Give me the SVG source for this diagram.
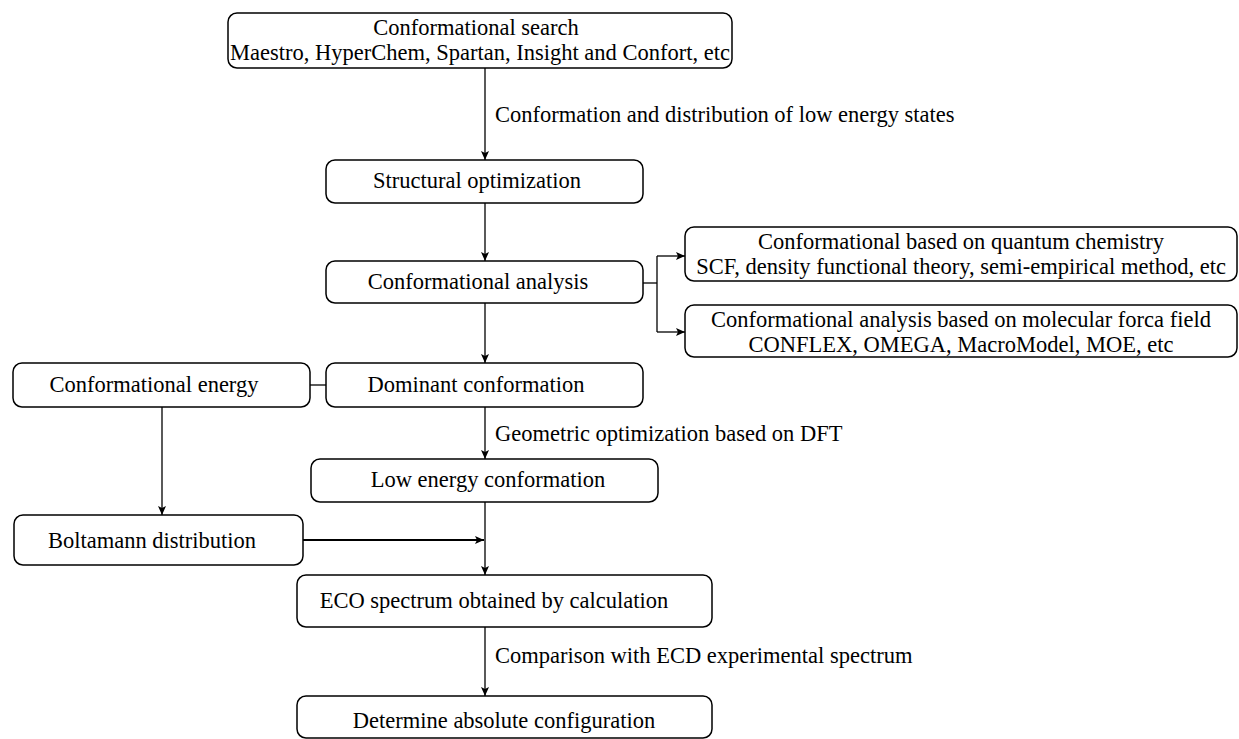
<svg xmlns="http://www.w3.org/2000/svg" width="1239" height="739" viewBox="0 0 1239 739">
<defs>
<marker id="ah" markerUnits="userSpaceOnUse" markerWidth="9" markerHeight="8" refX="9" refY="4" orient="auto">
<path d="M0,0 L9,4 L0,8 L2,4 z" fill="#000"/>
</marker>
<style>
.box{fill:#fff;stroke:#000;stroke-width:1.5}
.t{font-family:"Liberation Serif","Times New Roman",serif;font-size:22.5px;fill:#000}
.m{text-anchor:middle}
.c{fill:none;stroke:#000;stroke-width:1.3}
.a{marker-end:url(#ah)}
</style>
</defs>
<rect width="1239" height="739" fill="#fff"/>
<g id="connectors">
<line class="c a" x1="485" y1="68" x2="485" y2="160"/>
<line class="c a" x1="485" y1="203" x2="485" y2="261"/>
<line class="c" x1="643" y1="283" x2="657" y2="283"/>
<line class="c" x1="657" y1="256" x2="657" y2="332"/>
<line class="c a" x1="657" y1="256" x2="685" y2="256"/>
<line class="c a" x1="657" y1="332" x2="685" y2="332"/>
<line class="c a" x1="485" y1="303" x2="485" y2="363"/>
<line class="c" x1="310" y1="385" x2="326" y2="385"/>
<line class="c a" x1="485" y1="407" x2="485" y2="459"/>
<line class="c a" x1="162" y1="407" x2="162" y2="515"/>
<line class="c a" x1="303" y1="540" x2="484" y2="540" style="stroke-width:2"/>
<line class="c a" x1="485" y1="502" x2="485" y2="575"/>
<line class="c a" x1="485" y1="627" x2="485" y2="696"/>
<text class="t" x="495" y="122">Conformation and distribution of low energy states</text>
<text class="t" x="495" y="441">Geometric optimization based on DFT</text>
<text class="t" x="495" y="663">Comparison with ECD experimental spectrum</text>
</g>
<g id="n1">
<rect class="box" x="228" y="13" width="504" height="55" rx="9"/>
<text class="t m" x="476" y="35">Conformational search</text>
<text class="t m" x="480" y="60">Maestro, HyperChem, Spartan, Insight and Confort, etc</text>
</g>
<g id="n2">
<rect class="box" x="326" y="160" width="317" height="43" rx="9"/>
<text class="t m" x="477" y="188">Structural optimization</text>
</g>
<g id="n3">
<rect class="box" x="326" y="261" width="317" height="42" rx="9"/>
<text class="t m" x="478" y="289">Conformational analysis</text>
</g>
<g id="n4">
<rect class="box" x="685" y="227" width="552" height="54" rx="9"/>
<text class="t m" x="961" y="249">Conformational based on quantum chemistry</text>
<text class="t m" x="961" y="274">SCF, density functional theory, semi-empirical method, etc</text>
</g>
<g id="n5">
<rect class="box" x="685" y="305" width="552" height="52" rx="9"/>
<text class="t m" x="961" y="327">Conformational analysis based on molecular forca field</text>
<text class="t m" x="961" y="352">CONFLEX, OMEGA, MacroModel, MOE, etc</text>
</g>
<g id="n6">
<rect class="box" x="326" y="363" width="317" height="44" rx="9"/>
<text class="t m" x="476" y="392">Dominant conformation</text>
</g>
<g id="n7">
<rect class="box" x="13" y="363" width="297" height="44" rx="9"/>
<text class="t m" x="154" y="392">Conformational energy</text>
</g>
<g id="n8">
<rect class="box" x="311" y="459" width="347" height="43" rx="9"/>
<text class="t m" x="488" y="487">Low energy conformation</text>
</g>
<g id="n9">
<rect class="box" x="14" y="515" width="289" height="50" rx="9"/>
<text class="t m" x="152" y="548">Boltamann distribution</text>
</g>
<g id="n10">
<rect class="box" x="297" y="575" width="415" height="52" rx="9"/>
<text class="t m" x="494" y="608">ECO spectrum obtained by calculation</text>
</g>
<g id="n11">
<rect class="box" x="297" y="696" width="415" height="42" rx="9"/>
<text class="t m" x="504" y="728">Determine absolute configuration</text>
</g>
</svg>
